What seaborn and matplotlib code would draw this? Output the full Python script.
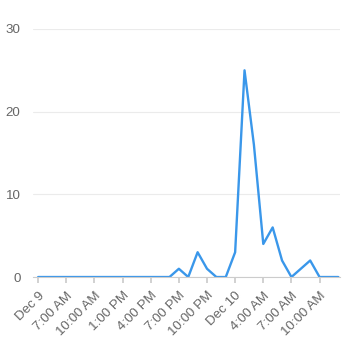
import matplotlib
matplotlib.use("Agg")
import matplotlib.pyplot as plt
import seaborn as sns
import pandas as pd

# data: one point per step, ticks every 3 steps
values = [0, 0, 0, 0, 0, 0, 0, 0, 0, 0, 0, 0, 0, 0, 0,
          1, 0, 3, 1, 0, 0, 3, 25, 16, 4, 6, 2, 0, 1, 2, 0, 0, 0]
tick_labels = ["Dec 9", "7:00 AM", "10:00 AM", "1:00 PM", "4:00 PM", "7:00 PM",
               "10:00 PM", "Dec 10", "4:00 AM", "7:00 AM", "10:00 AM"]
y_ticks = [0, 10, 20, 30]

df = pd.DataFrame({"idx": list(range(len(values))), "value": values})

sns.set_theme(style="white")
plt.rcParams["font.family"] = ["Liberation Sans", "DejaVu Sans"]
fig = plt.figure(figsize=(3.61, 3.45), dpi=100)
ax = fig.add_axes([0.0914, 0.197, 0.851, 0.719])

sns.lineplot(data=df, x="idx", y="value", ax=ax, color="#3a97ea", linewidth=1.7)

ax.set_xlim(-0.55, 32.2)
ax.set_ylim(0, 30)
ax.set_yticks(y_ticks)
ax.set_yticklabels([str(v) for v in y_ticks])
tick_pos = [i * 3 for i in range(len(tick_labels))]
ax.set_xticks(tick_pos)
ax.set_xticklabels(tick_labels, rotation=45, ha="right", rotation_mode="anchor")

ax.grid(axis="y", color="#ebebeb", linewidth=0.8)
ax.grid(axis="x", visible=False)
for s in ["top", "right", "left"]:
    ax.spines[s].set_visible(False)
ax.spines["bottom"].set_color("#cccccc")
ax.spines["bottom"].set_linewidth(0.8)

ax.tick_params(axis="x", which="both", bottom=True, length=4, color="#cccccc",
               labelsize=9.6, labelcolor="#666666", pad=5)
ax.tick_params(axis="y", length=0, labelsize=9.6, labelcolor="#666666", pad=9)
ax.set_xlabel("")
ax.set_ylabel("")

fig.savefig("out.png", dpi=100, facecolor="white")
